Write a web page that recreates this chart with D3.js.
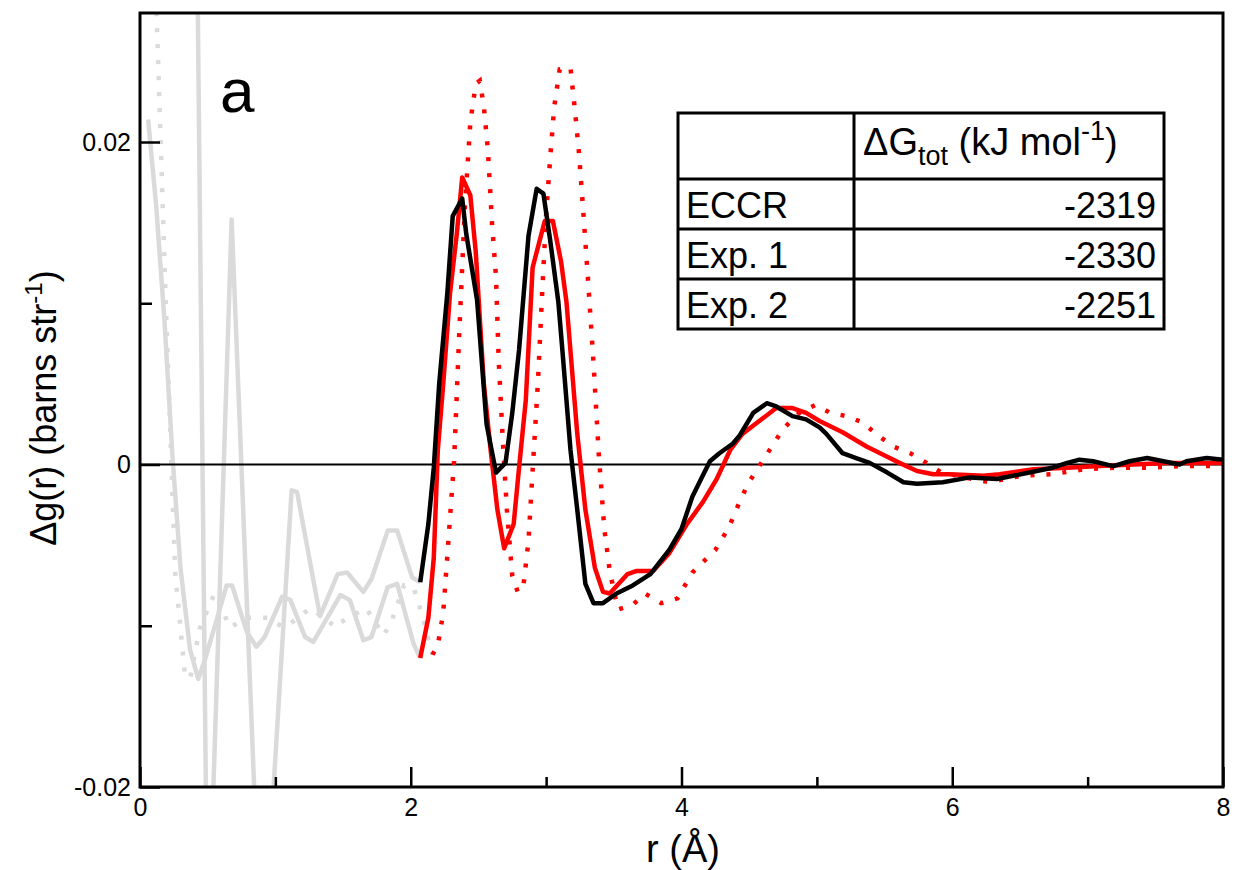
<!DOCTYPE html>
<html><head><meta charset="utf-8">
<script src="https://cdn.jsdelivr.net/npm/d3@7/dist/d3.min.js"></script>
<style>
body{margin:0;background:#fff}
svg{display:block}
text{font-family:"Liberation Sans",Arial,Helvetica,sans-serif;fill:#000}
</style>
</head><body>
<svg id="chart" width="1235" height="870"></svg>
<script>
// ---------- data ----------
// ECCR (black), r >= 2.07
const eccrR=[2.07,2.13,2.17,2.21,2.27,2.31,2.38,2.41,2.49,2.56,2.63,2.70,2.75,2.80,2.87,2.93,2.98,3.03,3.09,3.12,3.18,3.23,3.29,3.35,3.42,3.52,3.64,3.77,3.91,4.00,4.08,4.15,4.21,4.28,4.38,4.43,4.53,4.63,4.70,4.82,4.92,5.02,5.07,5.19,5.29,5.39,5.52,5.64,5.74,5.93,6.13,6.33,6.45,6.57,6.74,6.85,6.94,7.04,7.19,7.31,7.44,7.56,7.68,7.73,7.88,8.00];
const eccrG=[-0.0073,-0.0037,-0.0002,0.0050,0.0106,0.0154,0.0165,0.0143,0.0102,0.0025,-0.0005,0.0001,0.0032,0.0071,0.0142,0.0171,0.0168,0.0139,0.0101,0.0071,0.0009,-0.0028,-0.0074,-0.0086,-0.0086,-0.0080,-0.0075,-0.0068,-0.0053,-0.0040,-0.0020,-0.0008,0.0002,0.0007,0.0013,0.0018,0.0032,0.0038,0.0036,0.0030,0.0028,0.0023,0.0019,0.0007,0.0004,0.0001,-0.0005,-0.0011,-0.0012,-0.0011,-0.0008,-0.0009,-0.0007,-0.0005,-0.0002,0.0001,0.0003,0.0002,-0.0001,0.0002,0.0004,0.0002,0.0000,0.0002,0.0004,0.0003];
// ECCR low-r part (grey)
const eccrLowR=[0.40,0.50,0.677,0.90,1.12,1.16,1.33,1.46,1.53,1.65,1.71,1.83,1.90,2.01,2.07];
const eccrLowG=[0.050,-0.031,0.0152,-0.032,-0.0016,-0.0017,-0.0094,-0.0068,-0.0067,-0.0079,-0.0071,-0.0041,-0.0041,-0.0070,-0.0073];

// Exp. 1 (red solid)
const exp1R=[2.07,2.13,2.17,2.20,2.24,2.29,2.34,2.38,2.44,2.48,2.54,2.59,2.64,2.69,2.76,2.80,2.85,2.90,2.99,3.05,3.11,3.15,3.23,3.29,3.36,3.42,3.47,3.60,3.67,3.79,3.91,4.04,4.16,4.26,4.36,4.45,4.56,4.70,4.82,4.92,5.02,5.19,5.37,5.49,5.61,5.74,5.86,5.98,6.23,6.35,6.60,6.85,7.09,7.34,7.58,8.00];
const exp1G=[-0.0120,-0.0095,-0.0058,0.0009,0.0050,0.0106,0.0143,0.0178,0.0167,0.0132,0.0050,0.0009,-0.0028,-0.0052,-0.0037,-0.0002,0.0040,0.0122,0.0151,0.0151,0.0126,0.0101,0.0019,-0.0028,-0.0064,-0.0079,-0.0080,-0.0068,-0.0066,-0.0066,-0.0055,-0.0037,-0.0023,-0.0009,0.0009,0.0019,0.0026,0.0035,0.0035,0.0032,0.0027,0.0020,0.0011,0.0006,0.0001,-0.0004,-0.0006,-0.0006,-0.0007,-0.0006,-0.0003,-0.0002,-0.0001,0.0000,0.0001,0.0001];
const exp1LowR=[0.06,0.12,0.18,0.24,0.30,0.37,0.43,0.48,0.56,0.64,0.68,0.79,0.86,0.92,1.05,1.11,1.22,1.28,1.48,1.55,1.65,1.71,1.83,1.90,2.02,2.07];
const exp1LowG=[0.0214,0.0160,0.0090,0.0005,-0.0065,-0.0115,-0.0133,-0.0121,-0.0098,-0.0075,-0.0075,-0.0104,-0.0113,-0.0107,-0.0082,-0.0084,-0.0107,-0.0110,-0.0081,-0.0084,-0.0109,-0.0107,-0.0076,-0.0074,-0.0111,-0.0120];

// Exp. 2 (red dotted)
const exp2R=[2.16,2.20,2.24,2.28,2.32,2.36,2.40,2.44,2.48,2.51,2.54,2.57,2.60,2.63,2.65,2.68,2.71,2.75,2.79,2.83,2.87,2.90,2.94,2.97,3.00,3.03,3.06,3.10,3.18,3.21,3.24,3.27,3.31,3.35,3.39,3.43,3.47,3.53,3.64,3.73,3.85,3.97,4.08,4.25,4.35,4.42,4.49,4.59,4.75,4.87,4.99,5.10,5.22,5.34,5.45,5.57,5.69,5.81,5.92,6.04,6.15,6.27,6.39,6.51,6.74,6.97,7.21,7.45,7.70,8.00];
const exp2G=[-0.0118,-0.0112,-0.0092,-0.0045,0.0002,0.0085,0.0160,0.0212,0.0236,0.0238,0.0222,0.0195,0.0150,0.0116,0.0064,0.0015,-0.0028,-0.0069,-0.0079,-0.0077,-0.0047,-0.0004,0.0052,0.0105,0.0155,0.0190,0.0222,0.0245,0.0246,0.0222,0.0196,0.0162,0.0114,0.0063,0.0005,-0.0040,-0.0066,-0.0090,-0.0087,-0.0080,-0.0086,-0.0083,-0.0067,-0.0053,-0.0039,-0.0025,-0.0012,0.0001,0.0022,0.0032,0.0037,0.0032,0.0030,0.0026,0.0018,0.0011,0.0007,0.0001,-0.0005,-0.0007,-0.0009,-0.0011,-0.0009,-0.0007,-0.0006,-0.0003,-0.0002,-0.0002,-0.0001,-0.0001];
const exp2LowR=[0.10,0.19,0.26,0.33,0.37,0.44,0.55,0.61,0.66,0.80,0.94,1.06,1.12,1.26,1.45,1.48,1.67,1.80,1.86,1.95,2.02,2.08,2.16];
const exp2LowG=[0.0340,0.0101,-0.0067,-0.0129,-0.0133,-0.0102,-0.0080,-0.0090,-0.0101,-0.0095,-0.0095,-0.0101,-0.0098,-0.0089,-0.0101,-0.0098,-0.0089,-0.0106,-0.0097,-0.0075,-0.0076,-0.0092,-0.0118];

// axes
const xMajorTicks=[0,2,4,6,8];
const xMinorTicks=[1,3,5,7];
const yMajorTicks=[-0.02,0,0.02];
const yMinorTicks=[-0.01,0.01];
const yTickLabels=["-0.02","0","0.02"];

// table
const tableRowLabels=["ECCR","Exp. 1","Exp. 2"];
const tableValues=["-2319","-2330","-2251"];
const panelLabel="a";

// ---------- drawing ----------
const svg=d3.select("#chart");
const P={left:140,right:1223,top:13,bottom:787};
const x=d3.scaleLinear().domain([0,8]).range([P.left,P.right]);
const y=d3.scaleLinear().domain([-0.02,0.028]).range([P.bottom,P.top]);
const zip=(r,g)=>r.map((v,i)=>[v,g[i]]);
const line=d3.line().x(d=>x(d[0])).y(d=>y(d[1]));
const LW=4.5;

svg.append("defs").append("clipPath").attr("id","clip")
  .append("rect").attr("x",P.left).attr("y",P.top)
  .attr("width",P.right-P.left).attr("height",P.bottom-P.top);

const plot=svg.append("g").attr("clip-path","url(#clip)");
const grey="#dadada";
// grey low-r parts
plot.append("path").attr("d",line(zip(exp2LowR,exp2LowG)))
  .attr("fill","none").attr("stroke",grey).attr("stroke-width",LW).attr("stroke-dasharray","4,12");
plot.append("path").attr("d",line(zip(exp1LowR,exp1LowG)))
  .attr("fill","none").attr("stroke",grey).attr("stroke-width",LW).attr("stroke-linejoin","round");
plot.append("path").attr("d",line(zip(eccrLowR,eccrLowG)))
  .attr("fill","none").attr("stroke",grey).attr("stroke-width",LW).attr("stroke-linejoin","round");

// zero line
plot.append("line").attr("x1",x(0)).attr("x2",x(8)).attr("y1",y(0)).attr("y2",y(0))
  .attr("stroke","#000").attr("stroke-width",2);

// main series
plot.append("path").attr("d",line(zip(exp2R,exp2G)))
  .attr("fill","none").attr("stroke","#ff0000").attr("stroke-width",LW).attr("stroke-dasharray","4,12");
plot.append("path").attr("d",line(zip(exp1R,exp1G)))
  .attr("fill","none").attr("stroke","#ff0000").attr("stroke-width",LW).attr("stroke-linejoin","round");
plot.append("path").attr("d",line(zip(eccrR,eccrG)))
  .attr("fill","none").attr("stroke","#000").attr("stroke-width",LW).attr("stroke-linejoin","round");

// axes (inward ticks)
const fmtY=d=>yTickLabels[yMajorTicks.indexOf(d)];
const xAxMaj=svg.append("g").attr("transform",`translate(0,${P.bottom})`)
  .call(d3.axisBottom(x).tickValues(xMajorTicks).tickSize(-20).tickPadding(11).tickFormat(d3.format("d")));
const xAxMin=svg.append("g").attr("transform",`translate(0,${P.bottom})`)
  .call(d3.axisBottom(x).tickValues(xMinorTicks).tickSize(-10).tickFormat(""));
const yAxMaj=svg.append("g").attr("transform",`translate(${P.left},0)`)
  .call(d3.axisLeft(y).tickValues(yMajorTicks).tickSize(-20).tickPadding(9).tickFormat(fmtY));
const yAxMin=svg.append("g").attr("transform",`translate(${P.left},0)`)
  .call(d3.axisLeft(y).tickValues(yMinorTicks).tickSize(-12).tickFormat(""));
[xAxMaj,xAxMin,yAxMaj,yAxMin].forEach(g=>{
  g.select(".domain").remove();
  g.selectAll(".tick line").attr("stroke","#000").attr("stroke-width",2.5);
  g.selectAll(".tick text").attr("font-size",25).attr("font-family","Liberation Sans, Arial, sans-serif").attr("fill","#000");
});

// frame
svg.append("rect").attr("x",P.left).attr("y",P.top)
  .attr("width",P.right-P.left).attr("height",P.bottom-P.top)
  .attr("fill","none").attr("stroke","#000").attr("stroke-width",3);

// axis titles
svg.append("text").attr("x",683).attr("y",862).attr("text-anchor","middle")
  .attr("font-size",38).text("r (Å)");
const yl=svg.append("text").attr("transform","translate(56,408) rotate(-90)")
  .attr("text-anchor","middle").attr("font-size",36);
yl.append("tspan").text("Δg(r)");
yl.append("tspan").attr("dx",10).text("(barns str");
yl.append("tspan").attr("dy",-14).attr("font-size",24).text("-1");
yl.append("tspan").attr("dy",14).text(")");

// panel label
svg.append("text").attr("x",220).attr("y",112).attr("font-size",62).text(panelLabel);

// table
const T={left:678,mid:854,right:1164,top:113,head:66,row:50};
const tg=svg.append("g");
const tBottom=T.top+T.head+T.row*tableRowLabels.length;
tg.append("rect").attr("x",T.left).attr("y",T.top).attr("width",T.right-T.left).attr("height",tBottom-T.top)
  .attr("fill","#fff").attr("stroke","#000").attr("stroke-width",3);
tg.append("line").attr("x1",T.mid).attr("x2",T.mid).attr("y1",T.top).attr("y2",tBottom)
  .attr("stroke","#000").attr("stroke-width",3);
tableRowLabels.forEach((lab,i)=>{
  const yTop=T.top+T.head+T.row*i;
  tg.append("line").attr("x1",T.left).attr("x2",T.right).attr("y1",yTop).attr("y2",yTop)
    .attr("stroke","#000").attr("stroke-width",3);
  tg.append("text").attr("x",T.left+8).attr("y",yTop+39).attr("font-size",36).text(lab);
  tg.append("text").attr("x",T.right-8).attr("y",yTop+39).attr("font-size",36)
    .attr("text-anchor","end").text(tableValues[i]);
});
const hd=tg.append("text").attr("x",T.mid+9).attr("y",T.top+42).attr("font-size",38);
hd.append("tspan").text("ΔG");
hd.append("tspan").attr("dy",10).attr("font-size",27).text("tot");
hd.append("tspan").attr("dy",-10).text(" (kJ mol");
hd.append("tspan").attr("dy",-15).attr("font-size",27).text("-1");
hd.append("tspan").attr("dy",15).text(")");
</script>
</body></html>
